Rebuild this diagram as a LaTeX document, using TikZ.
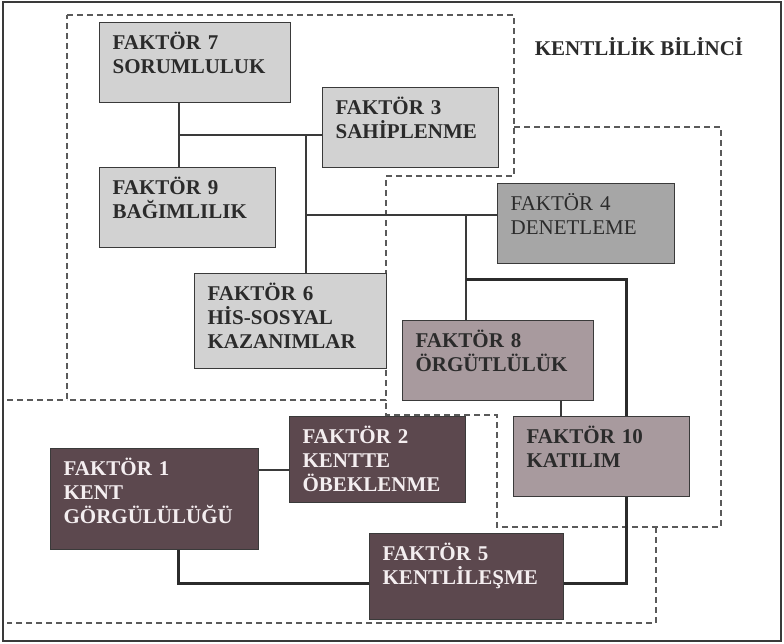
\documentclass[tikz,border=0pt]{standalone}
\usepackage{fontspec}
\setmainfont{Liberation Serif}
\usepackage{xcolor}
\usepackage{tikz}
\usetikzlibrary{calc}
\definecolor{boxlight}{HTML}{D2D2D2}
\definecolor{boxmid}{HTML}{A6A6A6}
\definecolor{boxmauve}{HTML}{A89A9E}
\definecolor{boxdark}{HTML}{5C484E}
\definecolor{inkdark}{HTML}{2B2B2B}
\definecolor{inklight}{HTML}{F4EEF0}
\definecolor{edgegray}{HTML}{3A3A3A}
\definecolor{zonegray}{HTML}{5A5A5A}
\tikzset{
  factornode/.style 2 args={anchor=north west,draw=edgegray,line width=1.3pt,
                           align=left,font=\fontsize{21}{24}\selectfont\bfseries,text=inkdark,
                           inner xsep=13pt,inner ysep=0pt,minimum width=#1pt,
                           text width={#1pt-26pt},text height=27pt,text depth={#2pt-27pt}},
  lightnode/.style={fill=boxlight},
  midnode/.style={fill=boxmid,font=\fontsize{21}{24}\selectfont},
  mauvenode/.style={fill=boxmauve},
  darknode/.style={fill=boxdark,text=inklight},
  linkline/.style={line width=1.1pt,draw=edgegray},
  thickline/.style={line width=3pt,draw=inkdark,line join=miter},
  zoneline/.style={dash pattern=on 6pt off 4pt,line width=1.1pt,draw=zonegray},
}

\begin{document}
\begin{tikzpicture}[x=1pt,y=-1pt]
  \useasboundingbox (0,0) rectangle (784,643);
  % outer frame
  \draw[line width=1.4pt,draw=edgegray] (3,2) rectangle (781,641);
  % dashed zones, drawn first so the boxes sit on top
  \draw[zoneline] (67,15) -- (514,15) -- (514,176) -- (386,176) -- (386,400) -- (67,400) -- cycle;
  \draw[zoneline] (514,127) -- (721,127) -- (721,527) -- (497,527) -- (497,415) -- (386,415) -- (386,400);
  \draw[zoneline] (7,400) -- (67,400);
  \draw[zoneline] (656,527) -- (656,623) -- (7,623);
  \node[font=\fontsize{21}{24}\selectfont\bfseries,text=inkdark] (title) at (639,47) {KENTLİLİK BİLİNCİ};
  % factor boxes, top left corner, width and height
  \node[factornode={191}{80},lightnode] (f7) at (99,22) {FAKTÖR 7\\SORUMLULUK};
  \node[factornode={176}{80},lightnode] (f3) at (322,87) {FAKTÖR 3\\SAHİPLENME};
  \node[factornode={176}{80},lightnode] (f9) at (99,167) {FAKTÖR 9\\BAĞIMLILIK};
  \node[factornode={192}{95},lightnode] (f6) at (194,273) {FAKTÖR 6\\HİS-SOSYAL\\KAZANIMLAR};
  \node[factornode={177}{80},midnode] (f4) at (497,183) {FAKTÖR 4\\DENETLEME};
  \node[factornode={191}{80},mauvenode] (f8) at (402,320) {FAKTÖR 8\\ÖRGÜTLÜLÜK};
  \node[factornode={176}{80},mauvenode] (f10) at (513,416) {FAKTÖR 10\\KATILIM};
  \node[factornode={176}{86},darknode] (f2) at (289,416) {FAKTÖR 2\\KENTTE\\ÖBEKLENME};
  \node[factornode={208}{101},darknode] (f1) at (50,448) {FAKTÖR 1\\KENT\\GÖRGÜLÜLÜĞÜ};
  \node[factornode={194}{86},darknode] (f5) at (369,533) {FAKTÖR 5\\KENTLİLEŞME};
  % junction points of the tree
  \coordinate (j1) at (179,135);
  \coordinate (j2) at (306,135);
  \coordinate (j3) at (306,215);
  \coordinate (j4) at (466,215);
  \coordinate (j5) at (466,279);
  \coordinate (j6) at (626,279);
  \coordinate (j7) at (626,583);
  \coordinate (j8) at (178,583);
  \coordinate (j9) at (561,408);
  \coordinate (j10) at (274,470);
  % thin links
  \draw[linkline] (j1 |- f7.south) -- (j1 |- f9.north);
  \draw[linkline] (j1) -- (j1 -| f3.west);
  \draw[linkline] (j2) -- (j2 |- f6.north);
  \draw[linkline] (j3) -- (j3 -| f4.west);
  \draw[linkline] (j4) -- (j4 |- f8.north);
  \draw[linkline] (j9 |- f8.south) -- (j9 |- f10.north);
  \draw[linkline] (j10 -| f1.east) -- (j10 -| f2.west);
  % thick links
  \draw[thickline] (j5) -- (j6) -- (j6 |- f10.north);
  \draw[thickline] (j7 |- f10.south) -- (j7) -- (j7 -| f5.east);
  \draw[thickline] (j8 |- f1.south) -- (j8) -- (j8 -| f5.west);
\end{tikzpicture}
\end{document}
